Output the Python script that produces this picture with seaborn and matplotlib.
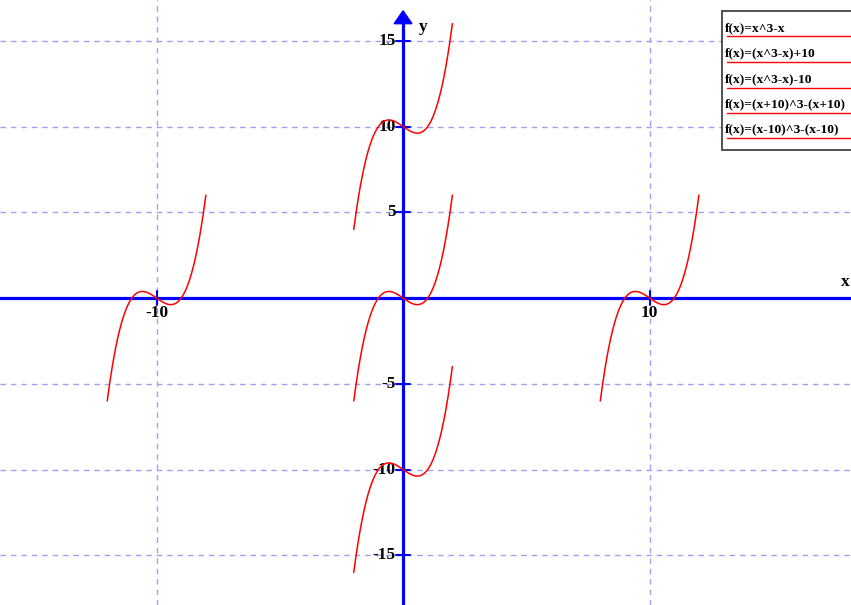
import numpy as np
import pandas as pd
import matplotlib
matplotlib.use("Agg")
import matplotlib.pyplot as plt
from matplotlib.patches import Polygon, Rectangle
import seaborn as sns

# Five transformed copies of f(x) = x^3 - x
labels = ["f(x)=x^3-x", "f(x)=(x^3-x)+10", "f(x)=(x^3-x)-10",
          "f(x)=(x+10)^3-(x+10)", "f(x)=(x-10)^3-(x-10)"]
h_shift = [0, 0, 0, -10, 10]      # horizontal offset of each curve
v_shift = [0, 10, -10, 0, 0]      # vertical offset of each curve
base_domain = [-2, 2]             # domain of the untranslated cubic

x_ticks = [-10, 10]
y_ticks = [-15, -10, -5, 5, 10, 15]
x_grid = [-10, 10]
y_grid = [-15, -10, -5, 5, 10, 15]

frames = []
for i, (lab, h, v) in enumerate(zip(labels, h_shift, v_shift)):
    u = np.linspace(base_domain[0], base_domain[1], 200)
    frames.append(pd.DataFrame({"x": u + h, "y": u**3 - u + v, "curve": lab}))
df = pd.concat(frames, ignore_index=True)

sns.set_style("white")
serif = ["Liberation Serif", "DejaVu Serif"]

fig = plt.figure(figsize=(8.51, 6.05), dpi=100)
ax = fig.add_axes([0, 0, 1, 1])
ax.set_xlim(-16.35, 18.17)
ax.set_ylim(-17.9, 17.38)
ax.axis("off")

grid_kw = dict(color="#a0a0f4", lw=1.0, ls=(0, (4, 3.5)), zorder=1)
for gx in x_grid:
    ax.axvline(gx, **grid_kw)
for gy in y_grid:
    ax.axhline(gy, **grid_kw)

# coordinate axes
ax.axhline(0, color="#0000ff", lw=2.3, zorder=3)
ax.plot([0, 0], [-17.9, 16.2], color="#0000ff", lw=2.3, zorder=3, solid_capstyle="butt")
ax.add_patch(Polygon([[-0.36, 16.0], [0.36, 16.0], [0, 16.75]], closed=True,
                     color="#0000ff", zorder=4))

# tick marks
for t in y_ticks:
    ax.plot([-0.3, 0.3], [t, t], color="#0000ff", lw=1.5, zorder=3)
for t in x_ticks:
    ax.plot([t, t], [-0.4, 0.4], color="#0000ff", lw=1.5, zorder=3)

# tick labels
lab_kw = dict(fontfamily=serif, fontweight="bold", fontsize=12.5, color="black", zorder=5)
for t in y_ticks:
    ax.text(-0.3, t, f"{t}", ha="right", va="center", **lab_kw)
for t in x_ticks:
    ax.text(t, -0.9, f"{t}", ha="center", va="center", **lab_kw)
ax.text(0.8, 15.8, "y", ha="center", va="center", **lab_kw)
ax.text(17.95, 0.95, "x", ha="center", va="center", **lab_kw)

sns.lineplot(data=df, x="x", y="y", units="curve", estimator=None, sort=False,
             color="#ff0000", lw=1.1, legend=False, ax=ax, zorder=6)
ax.set_xlim(-16.35, 18.17)
ax.set_ylim(-17.9, 17.38)

# legend box drawn in figure pixels
W, H = 851, 605
def fx(px):
    return px / W
def fy(py):
    return 1 - py / H

fig.patches.append(Rectangle((fx(722), fy(150)), fx(140), 139 / H, transform=fig.transFigure,
                             fill=True, facecolor="white", edgecolor="#333333", lw=1.2, zorder=10))
text_y = [28, 53, 79, 104, 129]
line_y = [36, 62, 88, 113, 138]
for lab, ty, ly in zip(labels, text_y, line_y):
    fig.text(fx(725), fy(ty), lab, ha="left", va="center", fontfamily=serif,
             fontweight="bold", fontsize=9.7, color="black", zorder=11)
    fig.lines.append(plt.Line2D([fx(727), 1.0], [fy(ly), fy(ly)], transform=fig.transFigure,
                                color="#ff0000", lw=1.0, zorder=11))

fig.savefig("out.png", dpi=100)
